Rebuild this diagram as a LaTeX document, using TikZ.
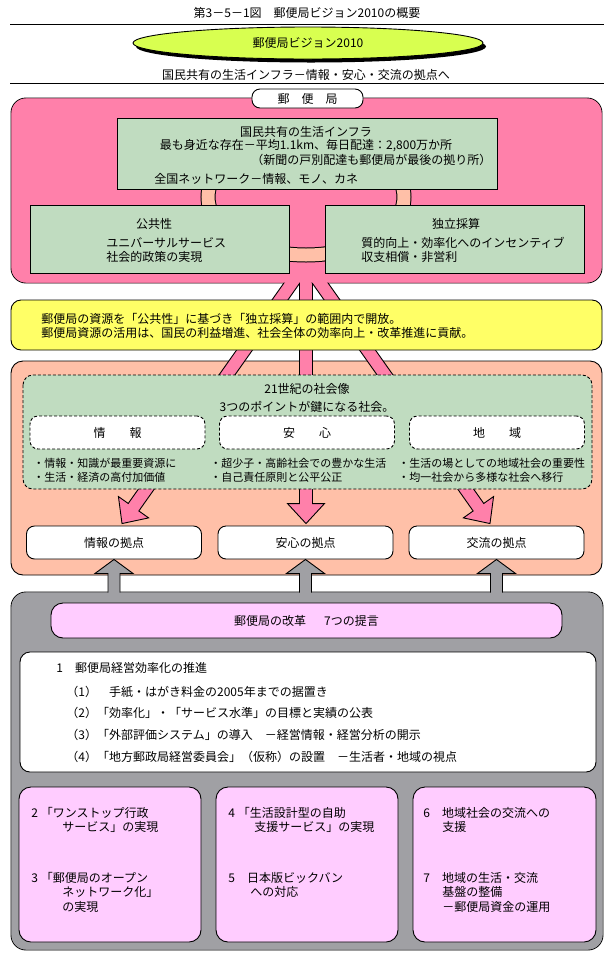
\documentclass[tikz,border=0pt]{standalone}
\usepackage{fontspec}
\setmainfont{Noto Sans CJK JP}
\usepackage{xcolor}
\usepackage{tikz}
\usetikzlibrary{calc, shapes.geometric}

\definecolor{postpink}{RGB}{255,128,170}
\definecolor{mint}{RGB}{192,220,192}
\definecolor{peach}{RGB}{255,192,168}
\definecolor{lemon}{RGB}{255,255,102}
\definecolor{lime}{RGB}{216,255,80}
\definecolor{slate}{RGB}{160,160,164}
\definecolor{lilac}{RGB}{255,204,255}

\begin{document}
\begin{tikzpicture}[x=1pt, y=-1pt, line width=0.9pt,
  font=\fontsize{12}{14}\selectfont,
  txt/.style={anchor=west, inner sep=0pt},
  mid/.style={inner sep=0pt},
  bul/.style={txt, font=\fontsize{11}{13}\selectfont},
  pill/.style={draw, fill=white, rounded corners=8pt, minimum height=33pt, inner sep=0pt},
  keybox/.style={pill, dash pattern=on 3pt off 2pt, minimum width=175pt},
  hubbox/.style={pill, minimum width=175pt}]

  \fill[white] (0,0) rectangle (613,962);
  % title and vision
  \node[mid] (title) at (307,13) {第3－5－1図　郵便局ビジョン2010の概要};
  \draw (10,24) -- (604,24);
  \fill (311,46.5) ellipse [x radius=175, y radius=16];
  \node[ellipse, draw, fill=lime, minimum width=350pt, minimum height=32pt, inner sep=0pt] (vision) at (308,43) {郵便局ビジョン2010};
  \node[mid] (aim) at (306,75) {国民共有の生活インフラ－情報・安心・交流の拠点へ};
  \draw (10,83) -- (604,83);

  % frames under the arrows
  \draw[fill=postpink, rounded corners=15pt] (11,98) rectangle (602,283);
  \draw[fill=peach, rounded corners=12pt] (11,361) rectangle (602,575);
  \node[hubbox] (hubA) at (114,542.5) {情報の拠点};
  \node[hubbox] (hubB) at (305.5,542.5) {安心の拠点};
  \node[hubbox] (hubC) at (496.5,542.5) {交流の拠点};

  % pink arrows
  \coordinate (apex) at (306,263);
  \coordinate (tipA) at ($(hubA.north)+(8,-2)$);
  \coordinate (tipB) at ($(hubB.north)+(0.5,-2)$);
  \coordinate (tipC) at ($(hubC.north)+(-6.5,-2)$);
  \foreach \t in {tipA,tipB,tipC}{
    \coordinate (hb) at ($(\t)!20pt!(apex)$);
    \filldraw[fill=postpink]
      ($(apex)!6.5pt!90:(\t)$) -- ($(hb)!6.5pt!90:(\t)$) -- ($(hb)!18.5pt!90:(\t)$)
      -- (\t) -- ($(hb)!18.5pt!-90:(\t)$) -- ($(hb)!6.5pt!-90:(\t)$)
      -- ($(apex)!6.5pt!-90:(\t)$) -- cycle;
  }
  \fill[postpink, rounded corners=14.5pt] (11.5,98.5) rectangle (601.5,282.5);

  % post office
  \draw[line width=15pt] (306,197) ellipse [x radius=98, y radius=58];
  \draw[line width=13pt, peach] (306,197) ellipse [x radius=98, y radius=58];
  \draw[fill=mint] (117,118) rectangle (497,189);
  \draw[fill=mint] (30,205) rectangle (289,273);
  \draw[fill=mint] (325,205) rectangle (584,273);
  \node[draw, fill=white, rounded corners=8pt, minimum width=111pt, minimum height=19pt, inner sep=0pt] (office) at (307.5,98.5) {郵　便　局};
  \node[mid] (infraHead) at (306,132) {国民共有の生活インフラ};
  \node[mid] (infraNear) at (306,146) {最も身近な存在－平均1.1km、毎日配達：2,800万か所};
  \node[txt] (infraNews) at (251,160) {（新聞の戸別配達も郵便局が最後の拠り所）};
  \node[txt] (infraNet) at (154,179) {全国ネットワーク－情報、モノ、カネ};
  \node[mid] (pubHead) at (154,224) {公共性};
  \node[txt] (pubA) at (106,243) {ユニバーサルサービス};
  \node[txt] (pubB) at (106,257) {社会的政策の実現};
  \node[mid] (indHead) at (456,224) {独立採算};
  \node[txt] (indA) at (361,243) {質的向上・効率化へのインセンティブ};
  \node[txt] (indB) at (361,257) {収支相償・非営利};

  % opening
  \draw[fill=lemon, rounded corners=10pt] (11,300) rectangle (602,350);
  \node[txt] (openA) at (41,319) {郵便局の資源を「公共性」に基づき「独立採算」の範囲内で開放。};
  \node[txt] (openB) at (41,333) {郵便局資源の活用は、国民の利益増進、社会全体の効率向上・改革推進に貢献。};

  % society of the 21st century
  \draw[fill=mint, dash pattern=on 3pt off 2pt, rounded corners=10pt] (23,375) rectangle (592,489);
  \node[mid] (socHead) at (307,389) {21世紀の社会像};
  \node[mid] (socSub) at (307,407) {3つのポイントが鍵になる社会。};
  \node[keybox] (keyA) at (117.5,432.5) {情　　報};
  \node[keybox] (keyB) at (307,432.5) {安　　心};
  \node[keybox] (keyC) at (497,432.5) {地　　域};
  \node[bul] (bulA1) at (33,463) {・情報・知識が最重要資源に};
  \node[bul] (bulA2) at (33,477) {・生活・経済の高付加価値};
  \node[bul] (bulB1) at (210,463) {・超少子・高齢社会での豊かな生活};
  \node[bul] (bulB2) at (210,477) {・自己責任原則と公平公正};
  \node[bul] (bulC1) at (398,463) {・生活の場としての地域社会の重要性};
  \node[bul] (bulC2) at (398,477) {・均一社会から多様な社会へ移行};

  % reform
  \draw[fill=slate, rounded corners=15pt] (11,592) rectangle (603,950);
  \foreach \h in {hubA,hubB,hubC}{
    \filldraw[fill=slate] ($(\h.south)+(-6,41)$) -- ++(0,-27) -- ++(-13,0) -- (\h.south)
      -- ($(\h.south)+(19,14)$) -- ++(-13,0) -- ++(0,27) -- cycle;
  }
  \fill[slate, rounded corners=14.5pt] (11.5,592.5) rectangle (602.5,949.5);
  \node[draw, fill=lilac, rounded corners=12pt, minimum width=511pt, minimum height=35pt, inner sep=0pt] (reform) at (306.5,620.5) {郵便局の改革\hspace{1.5em}7つの提言};
  \draw[fill=white, rounded corners=10pt] (20,652) rectangle (596,772);
  \node[txt] (effHead) at (56,668) {1　郵便局経営効率化の推進};
  \node[txt] (effA) at (66,692) {（1）　手紙・はがき料金の2005年までの据置き};
  \node[txt] (effB) at (66,713) {（2）「効率化」・「サービス水準」の目標と実績の公表};
  \node[txt] (effC) at (66,735) {（3）「外部評価システム」の導入　－経営情報・経営分析の開示};
  \node[txt] (effD) at (66,757) {（4）「地方郵政局経営委員会」（仮称）の設置　－生活者・地域の視点};
  \draw[fill=lilac, rounded corners=12pt] (19,787) rectangle (201,942);
  \draw[fill=lilac, rounded corners=12pt] (216,787) rectangle (398,942);
  \draw[fill=lilac, rounded corners=12pt] (413,787) rectangle (596,942);
  \node[txt] (propA) at (31,813) {2 「ワンストップ行政};
  \node[txt] (propAb) at (62,827) {サービス」の実現};
  \node[txt] (propB) at (31,878) {3 「郵便局のオープン};
  \node[txt] (propBb) at (62,892) {ネットワーク化」};
  \node[txt] (propBc) at (62,907) {の実現};
  \node[txt] (propC) at (228,813) {4 「生活設計型の自助};
  \node[txt] (propCb) at (254,827) {支援サービス」の実現};
  \node[txt] (propD) at (228,878) {5　日本版ビックバン};
  \node[txt] (propDb) at (250,892) {への対応};
  \node[txt] (propE) at (423,813) {6　地域社会の交流への};
  \node[txt] (propEb) at (442,827) {支援};
  \node[txt] (propF) at (423,878) {7　地域の生活・交流};
  \node[txt] (propFb) at (442,892) {基盤の整備};
  \node[txt] (propFc) at (442,907) {－郵便局資金の運用};
\end{tikzpicture}
\end{document}
